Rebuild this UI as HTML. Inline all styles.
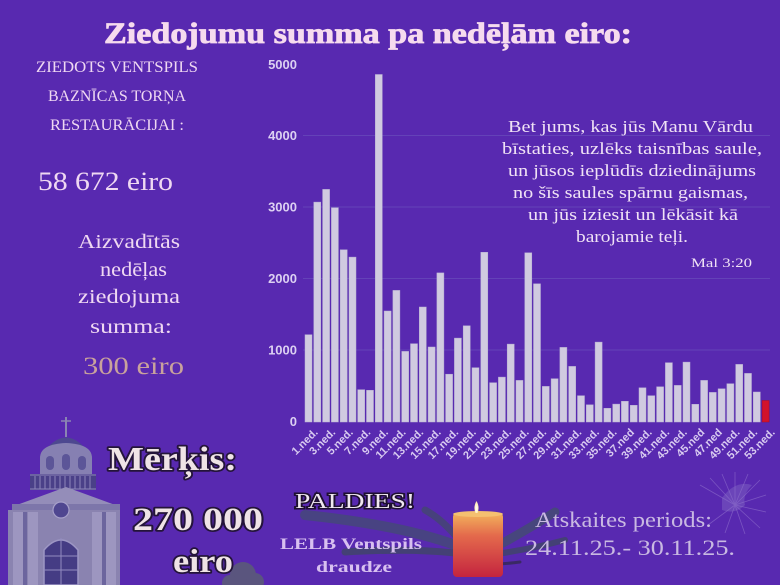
<!DOCTYPE html>
<html>
<head>
<meta charset="utf-8">
<style>
  html,body{margin:0;padding:0;background:#5829b0;}
  svg{display:block;}
</style>
</head>
<body>
<svg width="780" height="585" viewBox="0 0 780 585" xmlns="http://www.w3.org/2000/svg">
  <defs>
    <linearGradient id="candle" x1="0" y1="0" x2="0" y2="1">
      <stop offset="0" stop-color="#f3b35c"/>
      <stop offset="0.35" stop-color="#e46a4c"/>
      <stop offset="1" stop-color="#c4243f"/>
    </linearGradient>
    <radialGradient id="flame" cx="0.5" cy="0.6" r="0.6">
      <stop offset="0" stop-color="#ffffff"/>
      <stop offset="1" stop-color="#ffe9a0"/>
    </radialGradient>
  </defs>
  <rect width="780" height="585" fill="#5829b0"/>

  <!-- Title -->
  <text x="104" y="43" font-family="Liberation Serif, serif" font-weight="bold" font-size="30" fill="#f6dbee" stroke="#f6dbee" stroke-width="0.8" textLength="528" lengthAdjust="spacingAndGlyphs">Ziedojumu summa pa nedēļām eiro:</text>

  <!-- Left text -->
  <g font-family="Liberation Serif, serif" fill="#efd8f2">
    <text x="36" y="72" font-size="16" textLength="162" lengthAdjust="spacingAndGlyphs">ZIEDOTS VENTSPILS</text>
    <text x="48" y="101" font-size="16" textLength="138" lengthAdjust="spacingAndGlyphs">BAZNĪCAS TORŅA</text>
    <text x="50" y="130" font-size="16" textLength="134" lengthAdjust="spacingAndGlyphs">RESTAURĀCIJAI :</text>
    <text x="38" y="190" font-size="26" textLength="135" lengthAdjust="spacingAndGlyphs">58 672 eiro</text>
    <text x="78" y="248" font-size="20" textLength="102" lengthAdjust="spacingAndGlyphs">Aizvadītās</text>
    <text x="100" y="276" font-size="20" textLength="67" lengthAdjust="spacingAndGlyphs">nedēļas</text>
    <text x="78" y="303" font-size="20" textLength="102" lengthAdjust="spacingAndGlyphs">ziedojuma</text>
    <text x="90" y="333" font-size="20" textLength="82" lengthAdjust="spacingAndGlyphs">summa:</text>
    <text x="83" y="374" font-size="25" fill="#c9a29c" textLength="101" lengthAdjust="spacingAndGlyphs">300 eiro</text>
  </g>

  <!-- Gridlines -->
  <g stroke="#6442b8" stroke-width="1">
    <line x1="303" y1="135.5" x2="770" y2="135.5"/>
    <line x1="303" y1="207" x2="770" y2="207"/>
    <line x1="303" y1="278.5" x2="770" y2="278.5"/>
    <line x1="303" y1="350" x2="770" y2="350"/>
  </g>

  <!-- Y labels -->
  <g font-family="Liberation Sans, sans-serif" font-weight="bold" font-size="13" fill="#dcd0f2" text-anchor="end">
    <text x="297" y="69">5000</text>
    <text x="297" y="140">4000</text>
    <text x="297" y="211.5">3000</text>
    <text x="297" y="283">2000</text>
    <text x="297" y="354.5">1000</text>
    <text x="297" y="426">0</text>
  </g>

  <!-- Quote -->
  <g font-family="Liberation Serif, serif" font-size="16.5" fill="#f0e2f5">
    <text x="508" y="132" textLength="245" lengthAdjust="spacingAndGlyphs">Bet jums, kas jūs Manu Vārdu</text>
    <text x="502" y="154" textLength="260" lengthAdjust="spacingAndGlyphs">bīstaties, uzlēks taisnības saule,</text>
    <text x="508" y="176" textLength="248" lengthAdjust="spacingAndGlyphs">un jūsos ieplūdīs dziedinājums</text>
    <text x="513" y="198" textLength="235" lengthAdjust="spacingAndGlyphs">no šīs saules spārnu gaismas,</text>
    <text x="528" y="220" textLength="210" lengthAdjust="spacingAndGlyphs">un jūs iziesit un lēkāsit kā</text>
    <text x="576" y="242" textLength="112" lengthAdjust="spacingAndGlyphs">barojamie teļi.</text>
    <text x="691" y="267" font-size="12.5" textLength="61" lengthAdjust="spacingAndGlyphs">Mal 3:20</text>
  </g>

  <!-- Bars -->
  <g fill="#d0cae0" stroke="#b9b1d3" stroke-width="0.5">
    <rect x="305.0" y="334.7" width="7" height="87.3"/>
    <rect x="313.8" y="202.1" width="7" height="219.9"/>
    <rect x="322.6" y="189.4" width="7" height="232.6"/>
    <rect x="331.4" y="207.7" width="7" height="214.3"/>
    <rect x="340.2" y="249.8" width="7" height="172.2"/>
    <rect x="349.0" y="257.1" width="7" height="164.9"/>
    <rect x="357.7" y="389.7" width="7" height="32.3"/>
    <rect x="366.5" y="390.3" width="7" height="31.7"/>
    <rect x="375.3" y="74.5" width="7" height="347.5"/>
    <rect x="384.1" y="311.0" width="7" height="111.0"/>
    <rect x="392.9" y="290.4" width="7" height="131.6"/>
    <rect x="401.7" y="351.4" width="7" height="70.6"/>
    <rect x="410.5" y="343.7" width="7" height="78.3"/>
    <rect x="419.3" y="307.0" width="7" height="115.0"/>
    <rect x="428.1" y="347.0" width="7" height="75.0"/>
    <rect x="436.9" y="272.9" width="7" height="149.1"/>
    <rect x="445.6" y="374.2" width="7" height="47.8"/>
    <rect x="454.4" y="338.1" width="7" height="83.9"/>
    <rect x="463.2" y="325.8" width="7" height="96.2"/>
    <rect x="472.0" y="367.7" width="7" height="54.3"/>
    <rect x="480.8" y="252.3" width="7" height="169.7"/>
    <rect x="489.6" y="382.7" width="7" height="39.3"/>
    <rect x="498.4" y="377.1" width="7" height="44.9"/>
    <rect x="507.2" y="344.1" width="7" height="77.9"/>
    <rect x="516.0" y="380.4" width="7" height="41.6"/>
    <rect x="524.8" y="252.8" width="7" height="169.2"/>
    <rect x="533.5" y="283.8" width="7" height="138.2"/>
    <rect x="542.3" y="386.4" width="7" height="35.6"/>
    <rect x="551.1" y="378.7" width="7" height="43.3"/>
    <rect x="559.9" y="347.4" width="7" height="74.6"/>
    <rect x="568.7" y="366.4" width="7" height="55.6"/>
    <rect x="577.5" y="395.7" width="7" height="26.3"/>
    <rect x="586.3" y="404.8" width="7" height="17.2"/>
    <rect x="595.1" y="342.1" width="7" height="79.9"/>
    <rect x="603.9" y="408.3" width="7" height="13.7"/>
    <rect x="612.7" y="404.1" width="7" height="17.9"/>
    <rect x="621.4" y="401.3" width="7" height="20.7"/>
    <rect x="630.2" y="405.3" width="7" height="16.7"/>
    <rect x="639.0" y="387.8" width="7" height="34.2"/>
    <rect x="647.8" y="395.7" width="7" height="26.3"/>
    <rect x="656.6" y="386.8" width="7" height="35.2"/>
    <rect x="665.4" y="362.7" width="7" height="59.3"/>
    <rect x="674.2" y="385.4" width="7" height="36.6"/>
    <rect x="683.0" y="362.1" width="7" height="59.9"/>
    <rect x="691.8" y="404.3" width="7" height="17.7"/>
    <rect x="700.6" y="380.4" width="7" height="41.6"/>
    <rect x="709.3" y="392.4" width="7" height="29.6"/>
    <rect x="718.1" y="388.8" width="7" height="33.2"/>
    <rect x="726.9" y="383.7" width="7" height="38.3"/>
    <rect x="735.7" y="364.4" width="7" height="57.6"/>
    <rect x="744.5" y="373.4" width="7" height="48.6"/>
    <rect x="753.3" y="392.0" width="7" height="30.0"/>
    <rect x="762.1" y="400.5" width="7" height="21.5" fill="#d2122c" stroke="#a80e24"/>
  </g>

  <!-- X labels -->
  <g font-family="Liberation Sans, sans-serif" font-weight="bold" font-size="11" fill="#d8caf0" text-anchor="end">
    <text x="318.5" y="433" transform="rotate(-45 318.5 433)">1.ned.</text>
    <text x="336.1" y="433" transform="rotate(-45 336.1 433)">3.ned.</text>
    <text x="353.7" y="433" transform="rotate(-45 353.7 433)">5.ned.</text>
    <text x="371.2" y="433" transform="rotate(-45 371.2 433)">7.ned.</text>
    <text x="388.8" y="433" transform="rotate(-45 388.8 433)">9.ned.</text>
    <text x="406.4" y="433" transform="rotate(-45 406.4 433)">11.ned.</text>
    <text x="424.0" y="433" transform="rotate(-45 424.0 433)">13.ned.</text>
    <text x="441.6" y="433" transform="rotate(-45 441.6 433)">15.ned.</text>
    <text x="459.1" y="433" transform="rotate(-45 459.1 433)">17.ned.</text>
    <text x="476.7" y="433" transform="rotate(-45 476.7 433)">19.ned.</text>
    <text x="494.3" y="433" transform="rotate(-45 494.3 433)">21.ned.</text>
    <text x="511.9" y="433" transform="rotate(-45 511.9 433)">23.ned.</text>
    <text x="529.5" y="433" transform="rotate(-45 529.5 433)">25.ned.</text>
    <text x="547.0" y="433" transform="rotate(-45 547.0 433)">27.ned.</text>
    <text x="564.6" y="433" transform="rotate(-45 564.6 433)">29.ned.</text>
    <text x="582.2" y="433" transform="rotate(-45 582.2 433)">31.ned.</text>
    <text x="599.8" y="433" transform="rotate(-45 599.8 433)">33.ned.</text>
    <text x="617.4" y="433" transform="rotate(-45 617.4 433)">35.ned.</text>
    <text x="634.9" y="433" transform="rotate(-45 634.9 433)">37.ned</text>
    <text x="652.5" y="433" transform="rotate(-45 652.5 433)">39.ned.</text>
    <text x="670.1" y="433" transform="rotate(-45 670.1 433)">41.ned.</text>
    <text x="687.7" y="433" transform="rotate(-45 687.7 433)">43.ned.</text>
    <text x="705.3" y="433" transform="rotate(-45 705.3 433)">45.ned</text>
    <text x="722.8" y="433" transform="rotate(-45 722.8 433)">47.ned</text>
    <text x="740.4" y="433" transform="rotate(-45 740.4 433)">49.ned.</text>
    <text x="758.0" y="433" transform="rotate(-45 758.0 433)">51.ned.</text>
    <text x="775.6" y="433" transform="rotate(-45 775.6 433)">53.ned.</text>
  </g>

  <!-- Church (simplified) -->
  <g>
    <line x1="66" y1="417" x2="66" y2="437" stroke="#8a84b2" stroke-width="2"/>
    <line x1="61" y1="421" x2="71" y2="421" stroke="#8a84b2" stroke-width="1.5"/>
    <path d="M48 447 Q66 428 84 447 Z" fill="#4d4890"/>
    <path d="M40 476 L40 458 Q40 444 66 443 Q92 444 92 458 L92 476 Z" fill="#8680b2"/>
    <g fill="#5c5598">
      <rect x="46" y="456" width="8" height="14" rx="4"/>
      <rect x="62" y="454" width="8" height="16" rx="4"/>
      <rect x="78" y="456" width="8" height="14" rx="4"/>
    </g>
    <rect x="30" y="474" width="66" height="16" fill="#4a4088"/>
    <g stroke="#8d86ba" stroke-width="1">
      <line x1="30" y1="475" x2="96" y2="475"/>
      <line x1="30" y1="489" x2="96" y2="489"/>
      <line x1="35" y1="476" x2="35" y2="489"/><line x1="40" y1="476" x2="40" y2="489"/>
      <line x1="45" y1="476" x2="45" y2="489"/><line x1="50" y1="476" x2="50" y2="489"/>
      <line x1="55" y1="476" x2="55" y2="489"/><line x1="60" y1="476" x2="60" y2="489"/>
      <line x1="65" y1="476" x2="65" y2="489"/><line x1="70" y1="476" x2="70" y2="489"/>
      <line x1="75" y1="476" x2="75" y2="489"/><line x1="80" y1="476" x2="80" y2="489"/>
      <line x1="85" y1="476" x2="85" y2="489"/><line x1="90" y1="476" x2="90" y2="489"/>
    </g>
    <path d="M14 506 L66 487 L118 506 Z" fill="#948db9"/>
    <rect x="12" y="504" width="108" height="6" fill="#7d76aa"/>
    <rect x="8" y="510" width="112" height="75" fill="#8a83b0"/>
    <g fill="#9d96c0">
      <rect x="13" y="512" width="10" height="73"/>
      <rect x="28" y="512" width="10" height="73"/>
      <rect x="92" y="512" width="10" height="73"/>
      <rect x="106" y="512" width="10" height="73"/>
    </g>
    <g fill="#6c659e">
      <rect x="23" y="512" width="4" height="73"/>
      <rect x="102" y="512" width="4" height="73"/>
    </g>
    <circle cx="61" cy="510" r="8" fill="#4f4690" stroke="#a69fc9" stroke-width="1.2"/>
    <path d="M44 585 L44 550 Q61 530 78 550 L78 585 Z" fill="#453c84" stroke="#9d96c4" stroke-width="1.5"/>
    <g stroke="#928bc0" stroke-width="1">
      <line x1="61" y1="538" x2="61" y2="585"/>
      <line x1="44" y1="556" x2="78" y2="556"/>
      <line x1="44" y1="570" x2="78" y2="570"/>
    </g>
  </g>

  <!-- tree near eiro -->
  <g fill="#5b6072" opacity="0.8">
    <circle cx="243" cy="575" r="13"/>
    <circle cx="255" cy="582" r="9"/>
    <circle cx="230" cy="583" r="8"/>
  </g>

  <!-- Goal text -->
  <g font-family="Liberation Serif, serif" font-weight="bold" fill="#efe3e6" stroke="#24143a" stroke-width="3.5" paint-order="stroke" stroke-linejoin="round">
    <text x="108" y="470" font-size="34" textLength="129" lengthAdjust="spacingAndGlyphs">Mērķis:</text>
    <text x="133" y="530" font-size="33" textLength="130" lengthAdjust="spacingAndGlyphs">270 000</text>
    <text x="173" y="572" font-size="33" textLength="60" lengthAdjust="spacingAndGlyphs">eiro</text>
  </g>

  <!-- Feathers -->
  <g fill="none" stroke-linecap="round">
    <path d="M455 545 Q400 525 305 515" stroke="#3c5a5c" stroke-width="10" opacity="0.55"/>
    <path d="M455 553 Q410 548 345 552" stroke="#37504f" stroke-width="7" opacity="0.6"/>
    <path d="M455 535 Q440 518 425 510" stroke="#3a5552" stroke-width="7" opacity="0.55"/>
    <path d="M503 543 Q535 525 555 512" stroke="#3c5a5c" stroke-width="9" opacity="0.6"/>
    <path d="M503 553 Q535 548 565 540" stroke="#37504f" stroke-width="6" opacity="0.6"/>
    <path d="M470 562 Q490 566 520 562" stroke="#2e2a44" stroke-width="3" opacity="0.7"/>
  </g>

  <!-- Candle -->
  <rect x="453" y="513" width="50" height="64" rx="4" fill="url(#candle)"/>
  <ellipse cx="478" cy="514" rx="25" ry="3" fill="#f5c070"/>
  <path d="M475.5 513 Q473 507 476.5 501 Q480 507 477.5 513 Z" fill="url(#flame)"/>

  <!-- PALDIES -->
  <text x="295" y="508" font-family="Liberation Serif, serif" font-size="21" fill="#f0e8f0" stroke="#1e1030" stroke-width="3" paint-order="stroke" textLength="120" lengthAdjust="spacingAndGlyphs">PALDIES!</text>
  <g font-family="Liberation Serif, serif" font-weight="bold" font-size="16" fill="#d8c0f0">
    <text x="280" y="549" textLength="142" lengthAdjust="spacingAndGlyphs">LELB Ventspils</text>
    <text x="316" y="572" textLength="76" lengthAdjust="spacingAndGlyphs">draudze</text>
  </g>

  <!-- Dove (faint) -->
  <g stroke="#c9b9ea" stroke-width="0.8" opacity="0.3">
    <line x1="735" y1="505" x2="700" y2="485"/>
    <line x1="735" y1="505" x2="710" y2="478"/>
    <line x1="735" y1="505" x2="722" y2="474"/>
    <line x1="735" y1="505" x2="735" y2="472"/>
    <line x1="735" y1="505" x2="748" y2="474"/>
    <line x1="735" y1="505" x2="760" y2="480"/>
    <line x1="735" y1="505" x2="766" y2="495"/>
    <line x1="735" y1="505" x2="766" y2="512"/>
    <line x1="735" y1="505" x2="760" y2="528"/>
    <line x1="735" y1="505" x2="745" y2="534"/>
    <line x1="735" y1="505" x2="725" y2="533"/>
    <line x1="735" y1="505" x2="708" y2="525"/>
  </g>
  <path d="M722 498 Q735 480 752 485 Q742 495 745 505 Q735 515 722 510 Z" fill="#8a70c8" opacity="0.4"/>

  <!-- Report period -->
  <g font-family="Liberation Serif, serif" font-size="22" fill="#c9b9e2">
    <text x="535" y="527" textLength="177" lengthAdjust="spacingAndGlyphs">Atskaites periods:</text>
    <text x="525" y="555" textLength="210" lengthAdjust="spacingAndGlyphs">24.11.25.- 30.11.25.</text>
  </g>
</svg>
</body>
</html>
